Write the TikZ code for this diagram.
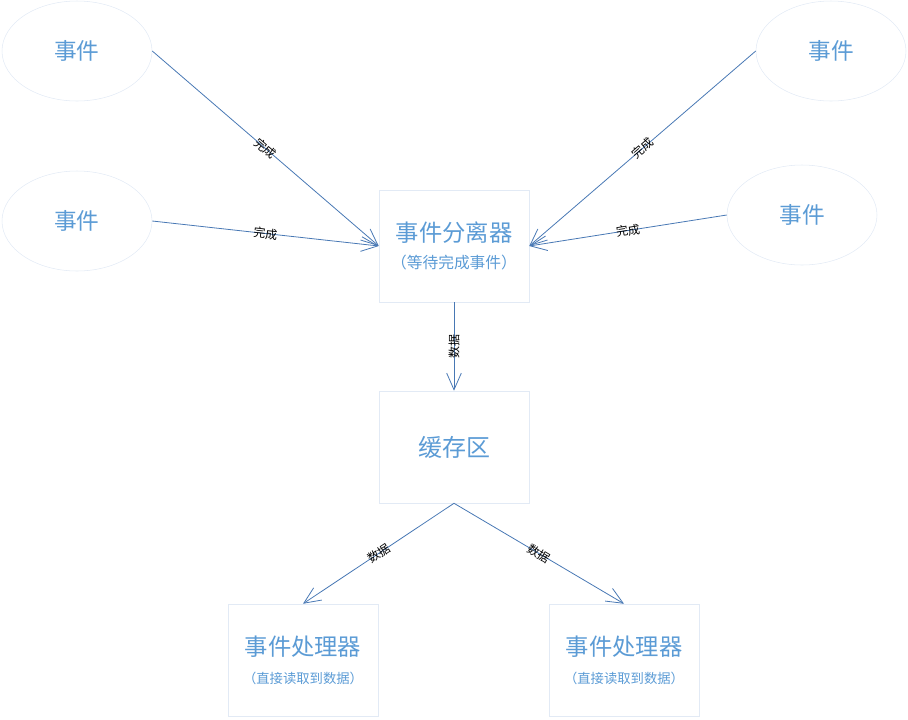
\documentclass[tikz,border=0pt]{standalone}
\usepackage{fontspec}
\setmainfont{Noto Sans CJK SC}
\usepackage{xcolor}
\definecolor{textblue}{RGB}{91,155,213}
\definecolor{lineblue}{RGB}{72,120,180}
\definecolor{frame}{RGB}{226,234,245}
\usepackage{tikz}
\usetikzlibrary{shapes.geometric,arrows.meta,positioning}

\newcommand{\bigtxt}[1]{{\fontsize{17.5}{20}\selectfont #1}}
\newcommand{\smalltxt}[1]{{\fontsize{11.8}{13}\selectfont #1}}
\newcommand{\tinytxt}[1]{{\fontsize{10}{12}\selectfont #1}}

\begin{document}
\begin{tikzpicture}[x=0.75pt,y=-0.75pt,
        event/.style={ellipse,draw=frame,minimum width=112.5pt,minimum height=75pt,inner sep=0pt,text=textblue,font=\fontsize{17}{20}\selectfont},
        box/.style={rectangle,draw=frame,minimum width=112.5pt,minimum height=84pt,inner sep=0pt,text=textblue,align=center},
        link/.style={draw=lineblue,line width=0.6pt,-{Straight Barb[length=12.5pt,width=11pt,line width=0.6pt]}},
        tag/.style={font=\fontsize{9}{10}\selectfont,text=black,inner sep=0pt}]
    \useasboundingbox (0,0) rectangle (908,719);

    % events
    \node[event] (ev1) at (77,51) {事件};
    \node[event] (ev2) at (77,221) {事件};
    \node[event] (ev3) at (831,51) {事件};
    \node[event] (ev4) at (802,215) {事件};

    % boxes
    \node[box] (sep) at (454,246) {\bigtxt{事件分离器}\\[8pt]\smalltxt{（等待完成事件）}};
    \node[box] (cache) at (454,447) {\fontsize{18}{20}\selectfont 缓存区};
    \node[box] (hd1) at (303,660) {\bigtxt{事件处理器}\\[9pt]\tinytxt{（直接读取到数据）}};
    \node[box] (hd2) at (624,660) {\bigtxt{事件处理器}\\[9pt]\tinytxt{（直接读取到数据）}};

    % connectors
    \draw[link] (ev1.east) -- node[tag,sloped] {完成} (sep.west);
    \draw[link] (ev2.east) -- node[tag,sloped] {完成} (sep.west);
    \draw[link] (ev3.west) -- node[tag,sloped] {完成} (sep.east);
    \draw[link] (ev4.west) -- node[tag,sloped] {完成} (sep.east);
    \draw[link] (sep.south) -- node[tag,rotate=90] {数据} (cache.north);
    \draw[link] (cache.south) -- node[tag,sloped] {数据} (hd1.north);
    \draw[link] (cache.south) -- node[tag,sloped] {数据} (hd2.north);
\end{tikzpicture}
\end{document}
